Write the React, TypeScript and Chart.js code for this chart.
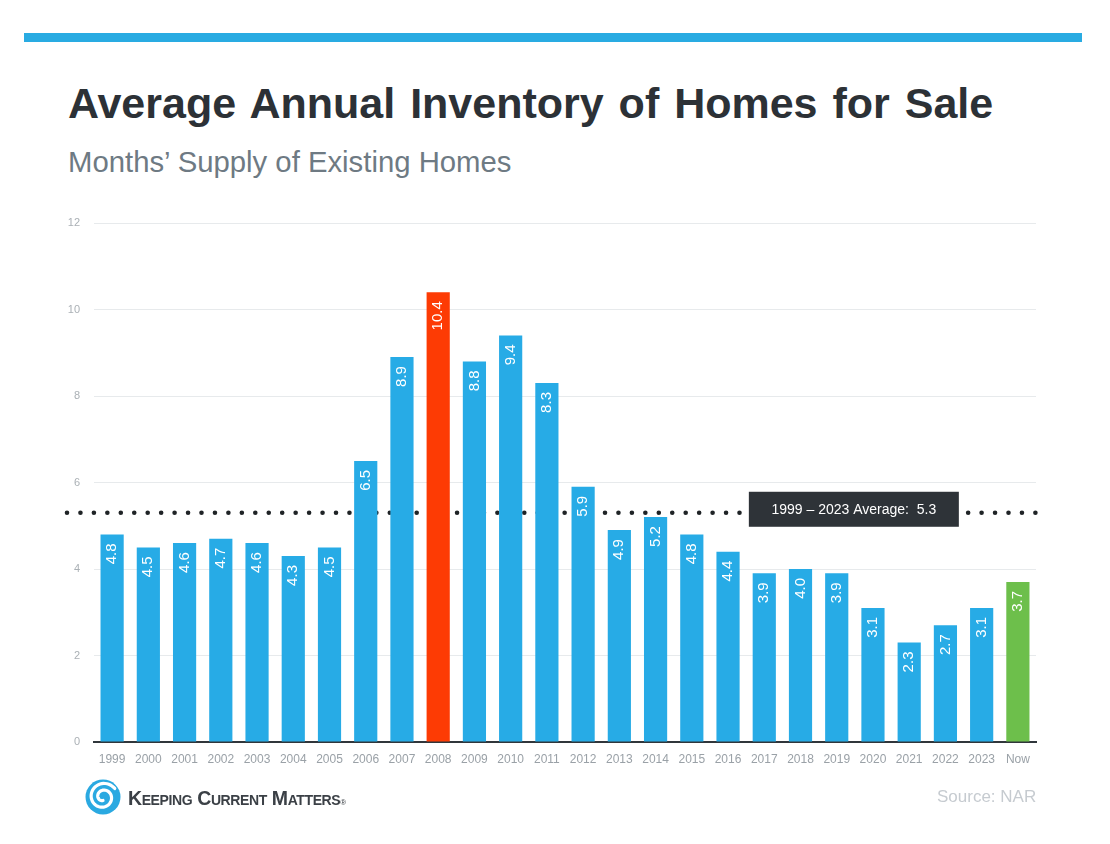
import React, { useEffect, useRef } from "react";
import { Chart, registerables } from "chart.js";

Chart.register(...registerables);

const categories = ["1999","2000","2001","2002","2003","2004","2005","2006","2007","2008","2009","2010","2011","2012","2013","2014","2015","2016","2017","2018","2019","2020","2021","2022","2023","Now"];
const supplyValues = [4.8,4.5,4.6,4.7,4.6,4.3,4.5,6.5,8.9,10.4,8.8,9.4,8.3,5.9,4.9,5.2,4.8,4.4,3.9,4.0,3.9,3.1,2.3,2.7,3.1,3.7];
const yTicks = [0,2,4,6,8,10,12];
const averageValue = 5.3;
const averageLabel = "1999 \u2013 2023 Average:  5.3";
const highlightPeak = "2008";
const highlightNow = "Now";

const BLUE = "#27abe6";
const RED = "#fd3b04";
const GREEN = "#6dbf4b";

function spiralPath(): string {
  const cx = 18, cy = 18;
  let d = "";
  const steps = 80;
  for (let i = 0; i <= steps; i++) {
    const t = (i / steps) * 3.3 * Math.PI;
    const r = 14.5 - (t / (3.3 * Math.PI)) * 11;
    const x = cx + r * Math.cos(t + Math.PI * 0.2);
    const y = cy - r * Math.sin(t + Math.PI * 0.2);
    d += (i === 0 ? "M" : "L") + x.toFixed(2) + " " + y.toFixed(2) + " ";
  }
  return d;
}

export default function App() {
  const ref = useRef<HTMLCanvasElement | null>(null);

  useEffect(() => {
    if (!ref.current) return;
    const colors = categories.map((c) => (c === highlightPeak ? RED : c === highlightNow ? GREEN : BLUE));

    const avgLinePlugin = {
      id: "avgLine",
      beforeDatasetsDraw(chart: any) {
        const { ctx, chartArea, scales } = chart;
        const y = scales.y.getPixelForValue(averageValue);
        ctx.save();
        ctx.strokeStyle = "#1f2326";
        ctx.lineWidth = 4.6;
        ctx.lineCap = "round";
        ctx.setLineDash([0, 13.45]);
        ctx.beginPath();
        ctx.moveTo(chartArea.left - 27, y);
        ctx.lineTo(chartArea.right + 1, y);
        ctx.stroke();
        ctx.restore();
      },
      afterDatasetsDraw(chart: any) {
        const { ctx, scales } = chart;
        const meta = chart.getDatasetMeta(0);
        ctx.save();
        ctx.fillStyle = "#ffffff";
        ctx.font = "15px 'Liberation Sans', Arial, sans-serif";
        ctx.textAlign = "right";
        ctx.textBaseline = "middle";
        meta.data.forEach((bar: any, i: number) => {
          ctx.save();
          ctx.translate(bar.x, bar.y + 9);
          ctx.rotate(-Math.PI / 2);
          ctx.fillText(supplyValues[i].toFixed(1), 0, 0);
          ctx.restore();
        });
        // average label box
        const y = scales.y.getPixelForValue(averageValue);
        const cx = (scales.x.getPixelForValue(20) + scales.x.getPixelForValue(21)) / 2 - 1;
        const w = 210, h = 35;
        ctx.fillStyle = "#2e3338";
        ctx.fillRect(cx - w / 2, y - 21, w, h);
        ctx.fillStyle = "#ffffff";
        ctx.font = "14px 'Liberation Sans', Arial, sans-serif";
        ctx.textAlign = "center";
        ctx.textBaseline = "middle";
        ctx.fillText(averageLabel, cx, y - 21 + h / 2 + 1);
        ctx.restore();
      },
    };

    const chart = new Chart(ref.current, {
      type: "bar",
      data: {
        labels: categories,
        datasets: [
          {
            data: supplyValues,
            backgroundColor: colors,
            borderWidth: 0,
            categoryPercentage: 1,
            barPercentage: 0.64,
          },
        ],
      },
      options: {
        responsive: false,
        animation: false,
        devicePixelRatio: 1,
        layout: { padding: { left: 0, top: 223, right: 74, bottom: 0 } },
        plugins: { legend: { display: false }, tooltip: { enabled: false }, title: { display: false } },
        scales: {
          x: {
            grid: { display: false, drawTicks: false },
            border: { display: true, color: "#30363b", width: 2 },
            ticks: {
              color: "#9aa1a7",
              font: { family: "'Liberation Sans', Arial, sans-serif", size: 12 },
              padding: 10,
              maxRotation: 0,
              autoSkip: false,
            },
            afterFit(scale: any) {
              scale.height = 102;
            },
          },
          y: {
            min: 0,
            max: 12,
            afterBuildTicks(scale: any) {
              scale.ticks = yTicks.map((v) => ({ value: v }));
            },
            grid: { color: "#e7eaec", lineWidth: 1, drawTicks: false },
            border: { display: false },
            ticks: {
              color: "#aab0b5",
              font: { family: "'Liberation Sans', Arial, sans-serif", size: 11 },
              padding: 14,
            },
            afterFit(scale: any) {
              scale.width = 94;
            },
          },
        },
      },
      plugins: [avgLinePlugin],
    });
    return () => chart.destroy();
  }, []);

  const font = "'Liberation Sans', Arial, Helvetica, sans-serif";
  return (
    <div style={{ position: "absolute", left: 0, top: 0, width: 1110, height: 844, background: "#ffffff", overflow: "hidden", fontFamily: font }}>
      <div style={{ position: "absolute", left: 24, top: 33, width: 1058, height: 9, background: "#29abe2" }} />
      <div style={{ position: "absolute", left: 68, top: 82, fontSize: 43, lineHeight: "43px", fontWeight: 700, color: "#2c3136", wordSpacing: 3, whiteSpace: "nowrap" }}>
        Average Annual Inventory of Homes for Sale
      </div>
      <div style={{ position: "absolute", left: 68, top: 147, fontSize: 29.3, lineHeight: "29px", color: "#6e7a83", whiteSpace: "nowrap" }}>
        Months’ Supply of Existing Homes
      </div>
      <canvas ref={ref} width={1110} height={844} style={{ position: "absolute", left: 0, top: 0, width: 1110, height: 844 }} />
      <svg style={{ position: "absolute", left: 85, top: 779 }} width={36} height={36} viewBox="0 0 36 36">
        <circle cx={18} cy={18} r={17.5} fill="#2aa9e1" />
        <path d={spiralPath()} fill="none" stroke="#ffffff" strokeWidth={3.2} strokeLinecap="round" />
      </svg>
      <div style={{ position: "absolute", left: 128, top: 786, fontSize: 19.5, lineHeight: "24px", fontWeight: 700, color: "#3b4046", fontVariant: "small-caps", letterSpacing: -0.4, whiteSpace: "nowrap" }}>
        Keeping Current Matters<span style={{ fontSize: 8, fontWeight: 400 }}>®</span>
      </div>
      <div style={{ position: "absolute", left: 937, top: 787, fontSize: 17, lineHeight: "20px", color: "#c6cbd0", whiteSpace: "nowrap" }}>
        Source: NAR
      </div>
    </div>
  );
}
